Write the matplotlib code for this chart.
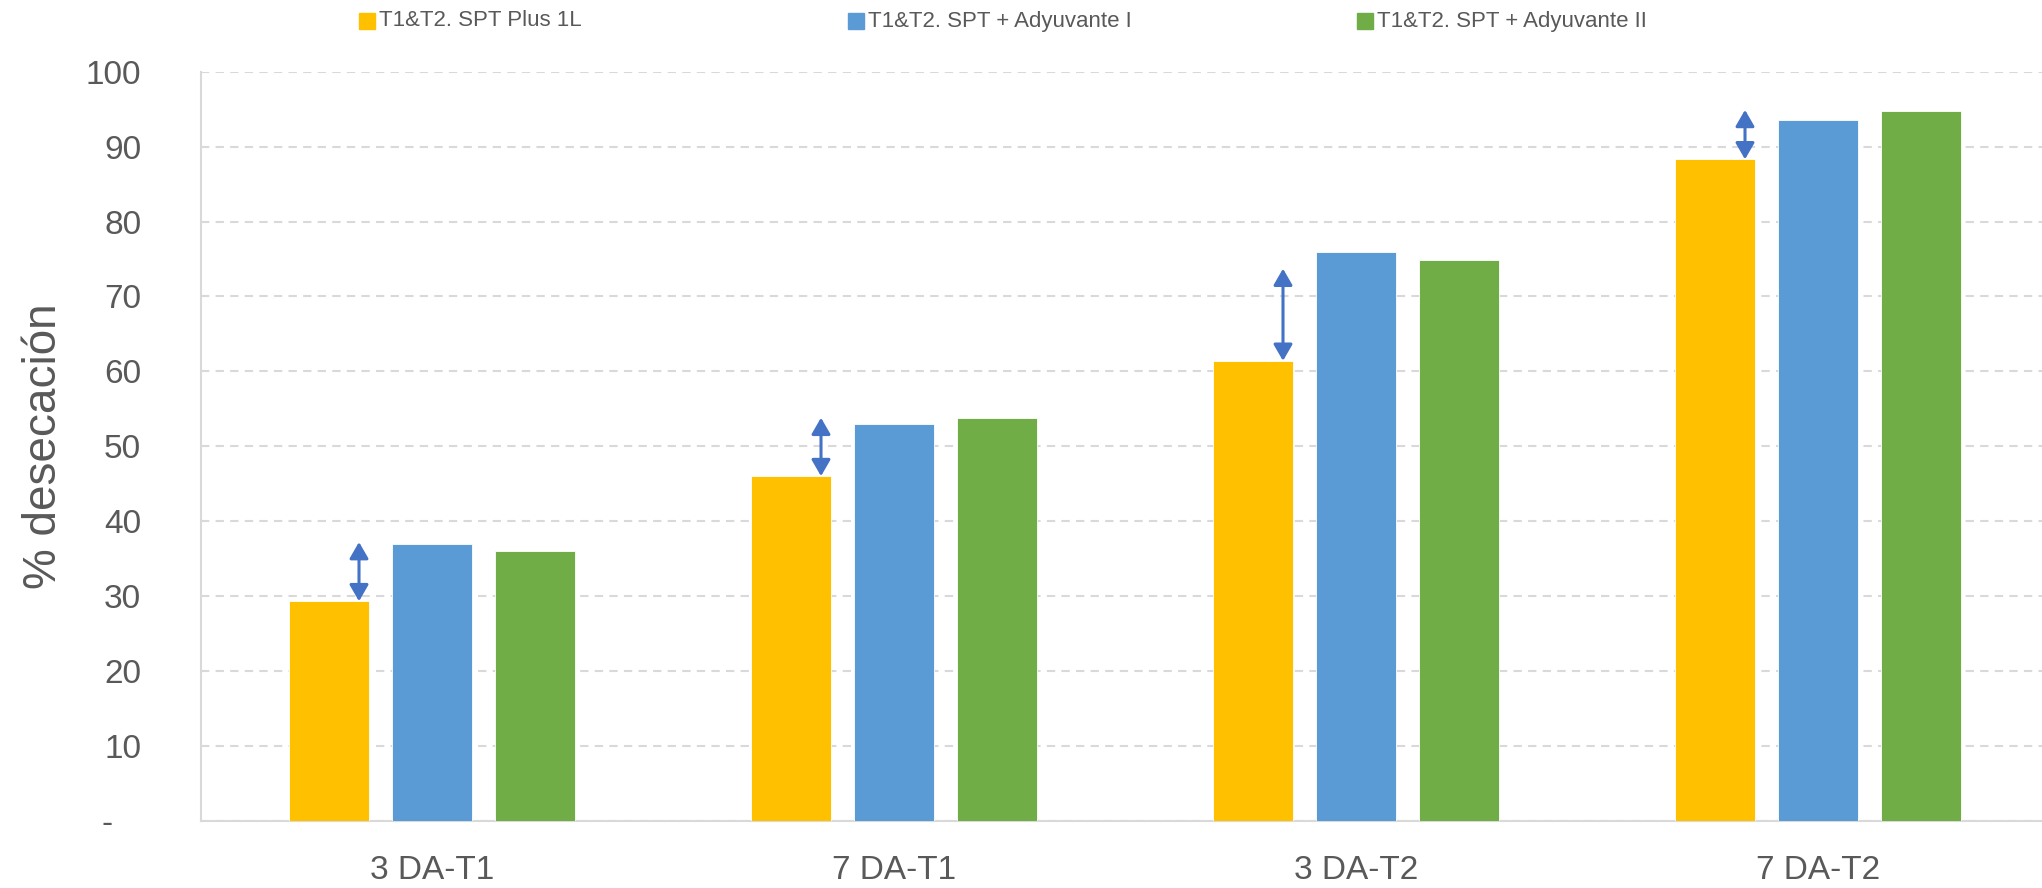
import numpy as np
import matplotlib.pyplot as plt
from matplotlib.patches import Rectangle

plt.rcParams['font.family'] = ['Liberation Sans', 'DejaVu Sans']

# datos
categorias = ["3 DA-T1", "7 DA-T1", "3 DA-T2", "7 DA-T2"]
series = ["T1&T2. SPT Plus 1L", "T1&T2. SPT + Adyuvante I", "T1&T2. SPT + Adyuvante II"]
spt_plus = [29.3, 46.0, 61.4, 88.3]
adyuvante_1 = [37.0, 52.9, 75.9, 93.6]
adyuvante_2 = [36.0, 53.8, 74.8, 94.7]
# flechas de diferencia (desde, hasta)
flecha_desde = [29.3, 46.0, 61.4, 88.3]
flecha_hasta = [37.2, 53.8, 73.7, 94.9]

colores = ["#FFC000", "#5B9BD5", "#70AD47"]
gris = "#595959"

fig = plt.figure(figsize=(20.42, 8.88), dpi=100)
ax = fig.add_axes([201 / 2042, 1 - 820.7 / 888, 1 - 201 / 2042, (820.7 - 71.7) / 888])

x = np.arange(len(categorias))
ancho = 0.175
paso = 0.223
for i, (vals, c) in enumerate(zip([spt_plus, adyuvante_1, adyuvante_2], colores)):
    ax.bar(x + (i - 1) * paso, vals, ancho, color=c, edgecolor="white", linewidth=0.6, zorder=3)

for xi, a, b in zip(x, flecha_desde, flecha_hasta):
    ax.annotate("", xy=(xi - 0.158, b), xytext=(xi - 0.158, a),
                arrowprops=dict(arrowstyle="<|-|>,head_length=0.45,head_width=0.26",
                                mutation_scale=22, color="#4472C4", lw=2.2,
                                shrinkA=0, shrinkB=0), zorder=4)

ax.set_xlim(-0.5, -0.5 + 1841 / 462)
ax.set_ylim(0, 100)
ax.set_yticks(range(0, 101, 10))
ax.set_yticklabels(["-   "] + [str(v) for v in range(10, 101, 10)])
ax.set_xticks(x)
ax.set_xticklabels(categorias)
ax.tick_params(axis="y", length=0, pad=43, labelsize=24, labelcolor=gris)
ax.tick_params(axis="x", length=0, pad=25, labelsize=24, labelcolor=gris)
ax.yaxis.grid(True, color="#D9D9D9", linestyle=(0, (4, 3)), linewidth=1.5, zorder=0)
for s in ["top", "right"]:
    ax.spines[s].set_visible(False)
for s in ["left", "bottom"]:
    ax.spines[s].set_color("#D9D9D9")
    ax.spines[s].set_linewidth(1.5)
ax.set_ylabel("% desecación", fontsize=33, color=gris)
ax.yaxis.set_label_coords(-0.0735, 0.5)

# leyenda
leyenda_x = [359, 848, 1357]
for lx, nombre, c in zip(leyenda_x, series, colores):
    fig.patches.append(Rectangle((lx / 2042, 1 - 29 / 888), 16 / 2042, 16 / 888,
                                 transform=fig.transFigure, color=c))
    fig.text((lx + 20) / 2042, 1 - 21 / 888, nombre, fontsize=16, color=gris, va="center")

fig.savefig("out.png", dpi=100)
